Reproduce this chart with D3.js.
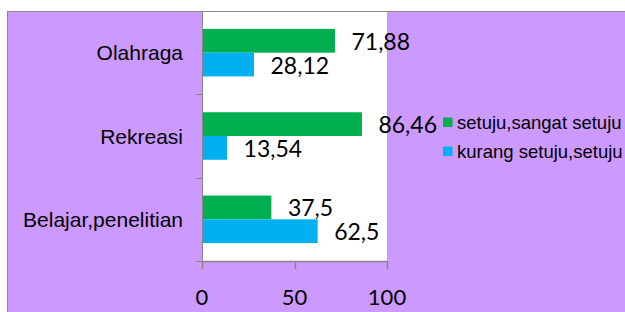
<!DOCTYPE html>
<html>
<head>
<meta charset="utf-8">
<script src="https://cdn.jsdelivr.net/npm/d3@7"></script>
<style>
  body { margin: 0; background: #fff; }
  svg { display: block; }
</style>
</head>
<body>
<div id="chart"></div>
<script>
var categories = ["Olahraga", "Rekreasi", "Belajar,penelitian"];
var seriesNames = ["setuju,sangat setuju", "kurang setuju,setuju"];
var setujuValues = [71.88, 86.46, 37.5];
var kurangValues = [28.12, 13.54, 62.5];
var labelsSetuju = ["71,88", "86,46", "37,5"];
var labelsKurang = ["28,12", "13,54", "62,5"];
var xTicks = [0, 50, 100];
var colors = ["#00B050", "#00B0F0"];

var width = 625, height = 312;

var svg = d3.select("#chart").append("svg")
    .attr("width", width)
    .attr("height", height);

// purple chart area with gray border
svg.append("rect")
    .attr("x", 7.5).attr("y", 11.5)
    .attr("width", width).attr("height", height)
    .attr("fill", "#CC99FF")
    .attr("stroke", "#8c8c8c")
    .attr("stroke-width", 1);

var plot = {left: 202, right: 387, top: 12, bottom: 261};

svg.append("rect")
    .attr("x", plot.left).attr("y", plot.top)
    .attr("width", plot.right - plot.left)
    .attr("height", plot.bottom - plot.top)
    .attr("fill", "#fff");

var x = d3.scaleLinear().domain([0, 100]).range([plot.left, plot.right]);
var y = d3.scaleBand().domain(categories).range([11, plot.bottom]).paddingInner(0.43).paddingOuter(0.215);

var rows = categories.map(function(c, i) {
    return {cat: c, vals: [setujuValues[i], kurangValues[i]], labels: [labelsSetuju[i], labelsKurang[i]]};
});

var barH = y.bandwidth() / 2;

var g = svg.selectAll(".row").data(rows).enter().append("g").attr("class", "row");

[0, 1].forEach(function(s) {
    g.append("rect")
        .attr("x", x(0))
        .attr("y", function(d) { return y(d.cat) + s * barH; })
        .attr("width", function(d) { return x(d.vals[s]) - x(0); })
        .attr("height", barH)
        .attr("fill", colors[s]);
    g.append("text")
        .attr("x", function(d) { return x(d.vals[s]) + 16.5; })
        .attr("y", function(d) { return y(d.cat) + s * barH + barH / 2 + 9; })
        .attr("font-family", "Lato, 'Open Sans', sans-serif")
        .attr("font-size", 23)
        .attr("fill", "#000")
        .text(function(d) { return d.labels[s]; });
});

// y axis
var yAxisBands = d3.scaleBand().domain(categories).range([11, plot.bottom]);
var yAxis = svg.append("g");
yAxis.append("line")
    .attr("x1", plot.left + 0.5).attr("x2", plot.left + 0.5)
    .attr("y1", 11).attr("y2", plot.bottom)
    .attr("stroke", "#868686");
yAxis.selectAll(".ytick").data(categories.slice(1).concat(["end"])).enter()
    .append("line")
    .attr("x1", plot.left - 6).attr("x2", plot.left)
    .attr("y1", function(d, i) { return Math.round(11 + (i + 1) * yAxisBands.step()) + 0.5; })
    .attr("y2", function(d, i) { return Math.round(11 + (i + 1) * yAxisBands.step()) + 0.5; })
    .attr("stroke", "#868686");
yAxis.selectAll(".ylab").data(categories).enter()
    .append("text")
    .attr("x", 183)
    .attr("y", function(d) { return yAxisBands(d) + yAxisBands.bandwidth() / 2 + 7.5; })
    .attr("text-anchor", "end")
    .attr("font-family", "'Liberation Sans', Arial, sans-serif")
    .attr("font-size", 21)
    .attr("fill", "#000")
    .text(function(d) { return d; });

// x axis
var xAxis = svg.append("g");
xAxis.append("line")
    .attr("x1", plot.left).attr("x2", plot.right)
    .attr("y1", plot.bottom + 0.5).attr("y2", plot.bottom + 0.5)
    .attr("stroke", "#868686").attr("stroke-width", 1.5);
xAxis.selectAll(".xtick").data(xTicks).enter()
    .append("line")
    .attr("x1", function(d) { return Math.round(x(d)) + 0.5; })
    .attr("x2", function(d) { return Math.round(x(d)) + 0.5; })
    .attr("y1", plot.bottom).attr("y2", plot.bottom + 8)
    .attr("stroke", "#868686").attr("stroke-width", 1.5);
xAxis.selectAll(".xlab").data(xTicks).enter()
    .append("text")
    .attr("x", function(d) { return x(d); })
    .attr("y", 305)
    .attr("text-anchor", "middle")
    .attr("font-family", "Lato, 'Open Sans', sans-serif")
    .attr("font-size", 22)
    .attr("fill", "#000")
    .text(function(d) { return d; });

// legend
var legend = svg.selectAll(".legend").data(seriesNames).enter()
    .append("g")
    .attr("transform", function(d, i) { return "translate(443," + (117.5 + i * 29) + ")"; });
legend.append("rect")
    .attr("width", 9.5).attr("height", 9.5)
    .attr("fill", function(d, i) { return colors[i]; });
legend.append("text")
    .attr("x", 14).attr("y", 11)
    .attr("font-family", "'Liberation Sans', Arial, sans-serif")
    .attr("font-size", 18.5)
    .attr("fill", "#000")
    .text(function(d) { return d; });
</script>
</body>
</html>
